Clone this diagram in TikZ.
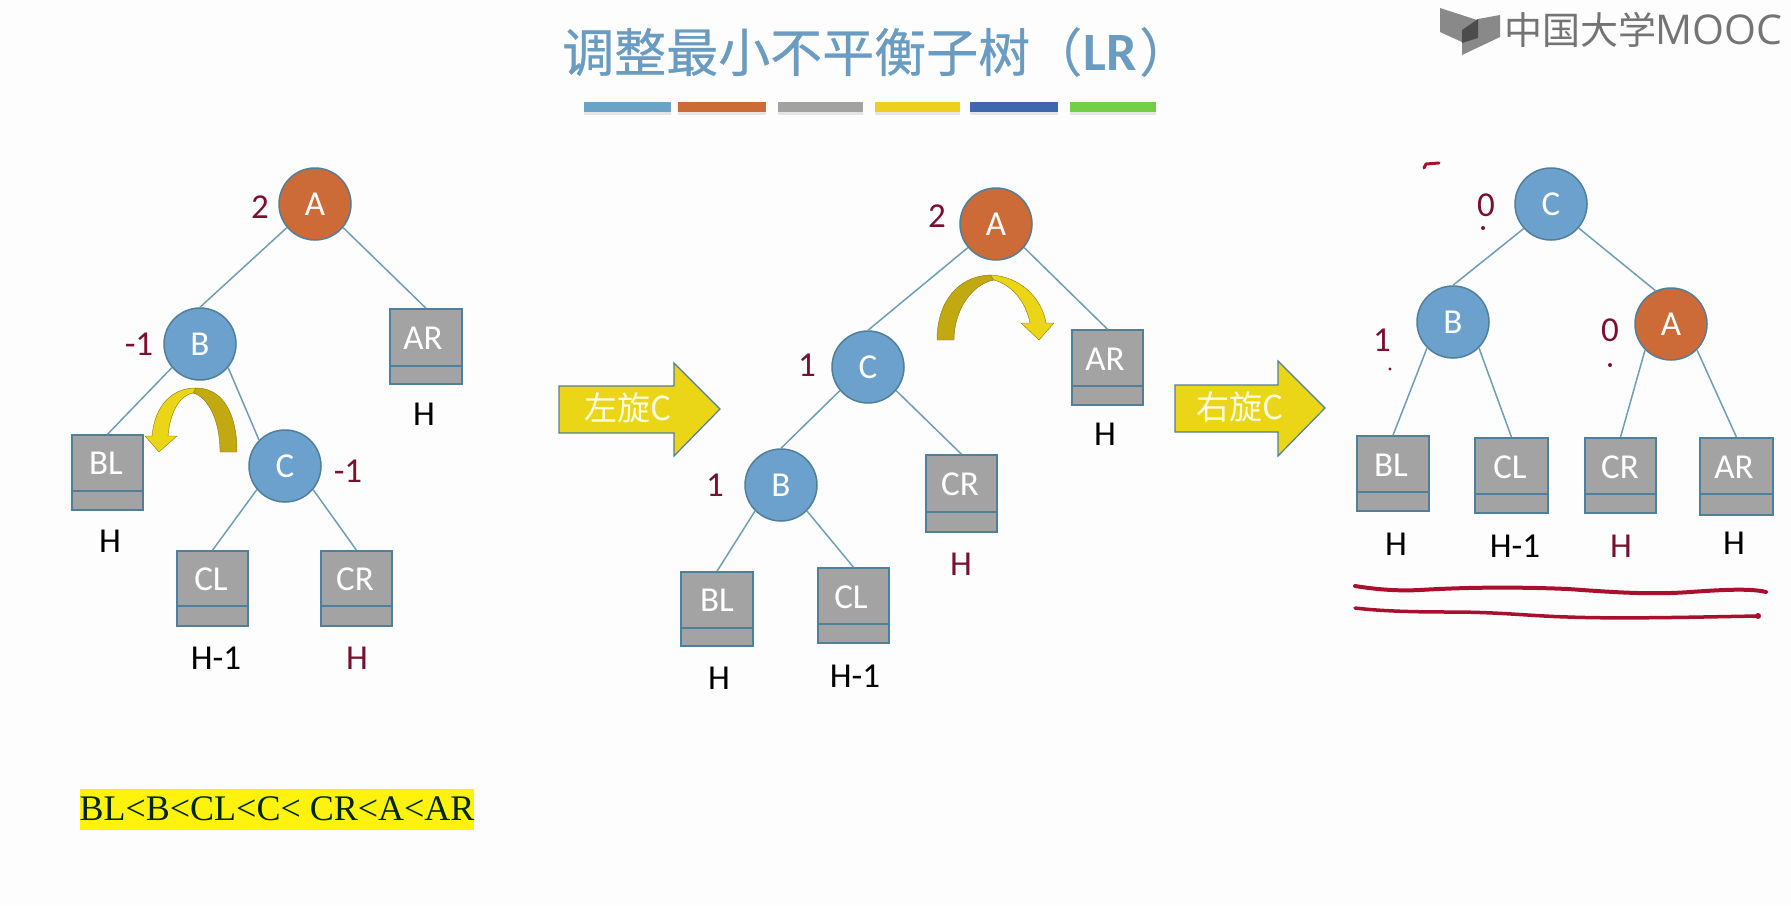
\documentclass[tikz,border=0pt]{standalone}
\usepackage{fontspec}
\setmainfont{Carlito}
\newfontfamily\cjk{Noto Sans CJK SC}
\newfontfamily\cjkheavy[FakeBold=0.5]{Noto Sans CJK SC}
\newfontfamily\serifbar{Liberation Serif}
\newfontfamily\logolatin{Open Sans}
\definecolor{pageground}{HTML}{FDFDFD}
\definecolor{nodeblue}{HTML}{6BA1CC}
\definecolor{nodeorange}{HTML}{CC6A38}
\definecolor{nodeedge}{HTML}{4F7F99}
\definecolor{leafgray}{HTML}{A3A3A3}
\definecolor{linkblue}{HTML}{6F9DB4}
\definecolor{balancered}{HTML}{7B0F30}
\definecolor{penred}{HTML}{A8102E}
\definecolor{titleblue}{HTML}{6A9CC2}
\definecolor{arrowyellow}{HTML}{EAD516}
\definecolor{arrowdark}{HTML}{C2A912}
\definecolor{logogray}{HTML}{747474}
\newcommand{\textsz}{\fontsize{35}{39}\selectfont}
\tikzset{
  treenode/.style={circle,draw=nodeedge,line width=1.5pt,minimum size=72pt,inner sep=0pt,text=white,font=\textsz},
  bluenode/.style={treenode,fill=nodeblue},
  orangenode/.style={treenode,fill=nodeorange},
  leafbox/.style={rectangle,draw=nodeedge,line width=1.5pt,fill=leafgray,inner sep=0pt},
  leaftext/.style={text=white,font=\textsz,inner sep=0pt},
  divider/.style={draw=nodeedge,line width=1.4pt},
  link/.style={draw=linkblue,line width=1.5pt},
  factor/.style={text=balancered,font=\textsz,inner sep=0pt},
  height/.style={text=black,font=\textsz,inner sep=0pt},
  heightred/.style={text=balancered,font=\textsz,inner sep=0pt},
  colourbar/.style={rectangle,inner sep=0pt,minimum height=10pt},
  bigarrow/.style={fill=arrowyellow,draw=nodeedge,line width=1.2pt,line join=miter},
  pen/.style={draw=penred,line cap=round,line join=round}
}
% A leaf subtree: name, left, top, right, bottom, divider y, label x, label y, label
\newcommand{\leaf}[9]{%
  \node[leafbox,minimum width=#4pt-#2pt,minimum height=#5pt-#3pt] (#1) at ({(#2+#4)/2},{(#3+#5)/2}) {};
  \coordinate (#1dl) at (#2,#6);
  \coordinate (#1dr) at (#4,#6);
  \draw[divider] (#1dl) -- (#1dr);
  \node[leaftext] (#1t) at (#7,#8) {#9};
}
\begin{document}
\begin{tikzpicture}[x=1pt,y=-1pt]
\useasboundingbox (0,0) rectangle (1791,905);
\fill[pageground] (0,0) rectangle (1791,905);

% heading
\node[anchor=west,inner sep=0pt,text=titleblue,font=\cjkheavy\fontsize{52}{60}\selectfont] (title) at (562,52) {调整最小不平衡子树（};
\node[anchor=west,inner sep=0pt,text=titleblue,font=\bfseries\fontsize{54}{60}\selectfont] (titlelr) at (1083,53) {LR};
\node[anchor=west,inner sep=0pt,text=titleblue,font=\cjkheavy\fontsize{52}{60}\selectfont] (titleend) at (1139,52) {）};

% row of colour bars with their soft shadow
\foreach \xa/\xb/\c [count=\i] in {584/671/6BA2C8,678/766/CC6A38,778/863/A2A2A0,875/960/EDD01E,970/1058/3F67AE,1070/1156/73D045}{
  \fill[black!10] (\xa,112) rectangle (\xb,115);
  \definecolor{barcol}{HTML}{\c}
  \node[colourbar,fill=barcol,minimum width=\xb pt-\xa pt] (bar\i) at ({(\xa+\xb)/2},107) {};
}

% publisher mark
\fill[logogray!85] (1462,30) -- (1478,19) -- (1500,15) -- (1500,37) -- (1462,55) -- cycle;
\fill[logogray!85] (1440,8) -- (1477,20) -- (1462,30) -- (1462,42) -- (1440,32) -- cycle;
\fill[black!70] (1462,30) -- (1478,19) -- (1478,38) -- (1462,43) -- cycle;
\node[anchor=west,inner sep=0pt,text=logogray,font=\cjk\fontsize{38}{40}\selectfont] (logocn) at (1504,30) {中国大学};
\node[anchor=west,inner sep=0pt,text=logogray,font=\logolatin\fontsize{41}{44}\selectfont] (logoen) at (1655,30) {MOOC};

% first tree
\node[orangenode] (A1) at (315,204) {A};
\node[bluenode] (B1) at (200,344) {B};
\node[bluenode] (C1) at (285,466) {C};
\leaf{AR1}{390}{309}{462}{384}{366}{423}{338}{AR}
\leaf{BL1}{72}{435}{143}{510}{491}{106}{463}{BL}
\leaf{CL1}{177}{551}{248}{626}{606}{211}{579}{CL}
\leaf{CR1}{321}{551}{392}{626}{606}{355}{579}{CR}
\draw[link] (A1.220) -- (B1.north);
\draw[link] (A1.320) -- (AR1.north);
\draw[link] (B1.220) -- (BL1.north);
\draw[link] (B1.320) -- (C1.north west);
\draw[link] (C1.220) -- (CL1.north);
\draw[link] (C1.320) -- (CR1.north);
\node[factor] (f1a) at (260,207) {2};
\node[factor] (f1b) at (139,344) {-1};
\node[factor] (f1c) at (348,471) {-1};
\node[height] (h1a) at (424,414) {H};
\node[height] (h1b) at (110,541) {H};
\node[height] (h1c) at (216,658) {H-1};
\node[heightred] (h1d) at (357,658) {H};

% curved rotation mark of the first tree
\fill[arrowdark,draw=arrowdark!70!black,line width=.4pt] (237,452) .. controls (237,412) and (222,388) .. (196,388) -- (193,393) .. controls (208,397) and (220,420) .. (220,452) -- cycle;
\fill[arrowyellow,draw=arrowdark!70!black,line width=.4pt] (196,388) .. controls (172,388) and (155,405) .. (152,436) -- (145,436) -- (159,452) -- (177,436) -- (168,436) .. controls (170,412) and (180,395) .. (193,393) -- cycle;

% first transition
\path[bigarrow] (559,386) -- (674,386) -- (674,363) -- (720,409) -- (674,456) -- (674,433) -- (559,433) -- cycle;
\node[inner sep=0pt,text=white!88!yellow,font=\cjk\fontsize{33}{36}\selectfont] (step1) at (628,408) {左旋C};

% second tree
\node[orangenode] (A2) at (996,224) {A};
\node[bluenode] (C2) at (868,367) {C};
\node[bluenode] (B2) at (781,485) {B};
\leaf{AR2}{1072}{330}{1143}{405}{386}{1105}{359}{AR}
\leaf{CR2}{926}{455}{997}{532}{512}{960}{484}{CR}
\leaf{BL2}{681}{572}{753}{646}{628}{717}{600}{BL}
\leaf{CL2}{818}{568}{889}{643}{624}{851}{597}{CL}
\draw[link] (A2.220) -- (C2.north);
\draw[link] (A2.320) -- (AR2.north);
\draw[link] (C2.220) -- (B2.north);
\draw[link] (C2.320) -- (CR2.north);
\draw[link] (B2.225) -- (BL2.north);
\draw[link] (B2.315) -- (CL2.north);
\node[factor] (f2a) at (937,216) {2};
\node[factor] (f2b) at (807,365) {1};
\node[factor] (f2c) at (715,485) {1};
\node[height] (h2a) at (1105,434) {H};
\node[heightred] (h2b) at (961,564) {H};
\node[height] (h2c) at (719,678) {H};
\node[height] (h2d) at (855,676) {H-1};

% curved rotation mark of the second tree
\fill[arrowdark,draw=arrowdark!70!black,line width=.4pt] (937,340) .. controls (937,302) and (958,276) .. (990,275) -- (994,280) .. controls (972,284) and (954,310) .. (954,340) -- cycle;
\fill[arrowyellow,draw=arrowdark!70!black,line width=.4pt] (990,275) .. controls (1020,276) and (1042,298) .. (1046,323) -- (1054,323) -- (1039,340) -- (1021,323) -- (1030,323) .. controls (1026,302) and (1012,285) .. (994,280) -- cycle;

% second transition
\path[bigarrow] (1175,385) -- (1278,385) -- (1278,361) -- (1325,408) -- (1278,456) -- (1278,432) -- (1175,432) -- cycle;
\node[inner sep=0pt,text=white!88!yellow,font=\cjk\fontsize{33}{36}\selectfont] (step2) at (1240,407) {右旋C};

% third tree
\node[bluenode] (C3) at (1551,204) {C};
\node[bluenode] (B3) at (1453,322) {B};
\node[orangenode] (A3) at (1671,324) {A};
\leaf{BL3}{1357}{436}{1429}{511}{492}{1391}{465}{BL}
\leaf{CL3}{1475}{438}{1548}{513}{494}{1510}{467}{CL}
\leaf{CR3}{1585}{438}{1656}{513}{494}{1620}{467}{CR}
\leaf{AR3}{1700}{438}{1773}{515}{494}{1734}{467}{AR}
\draw[link] (C3.222) -- (B3.north);
\draw[link] (C3.319) -- (A3.115);
\draw[link] (B3.225) -- (BL3.north);
\draw[link] (B3.315) -- (CL3.north);
\draw[link] (A3.225) -- (CR3.north);
\draw[link] (A3.315) -- (AR3.north);
\node[factor] (f3a) at (1486,205) {0};
\node[factor] (f3b) at (1382,340) {1};
\node[factor] (f3c) at (1610,330) {0};
\node[height] (h3a) at (1396,544) {H};
\node[height] (h3b) at (1515,546) {H-1};
\node[heightred] (h3c) at (1621,546) {H};
\node[height] (h3d) at (1734,543) {H};

% hand-drawn strokes around the third tree
\fill[balancered] (1483,228) circle (2pt);
\fill[balancered] (1390,369) circle (1.6pt);
\fill[balancered] (1610,365) circle (2pt);
\draw[pen,line width=3pt] (1424,168) -- (1426,164) -- (1439,163);
\draw[pen,line width=4pt] (1355,586) .. controls (1380,590) and (1400,591) .. (1420,590) .. controls (1470,587) and (1520,587) .. (1568,589) .. controls (1610,592) and (1650,595) .. (1690,592) .. controls (1720,590) and (1750,588) .. (1766,592);
\draw[pen,line width=3.5pt] (1355,608) .. controls (1380,611) and (1410,612) .. (1450,612) .. controls (1500,612) and (1530,616) .. (1568,617) .. controls (1620,619) and (1700,617) .. (1758,616);
\fill[penred] (1758,616) circle (3pt);

% ordering of the keys
\node[rectangle,fill=yellow!95!white,inner sep=0pt,minimum width=394pt,minimum height=41pt,text=black!85!green,font=\serifbar\fontsize{36}{40}\selectfont] (order) at (277,809) {BL<B<CL<C< CR<A<AR};
\end{tikzpicture}
\end{document}
